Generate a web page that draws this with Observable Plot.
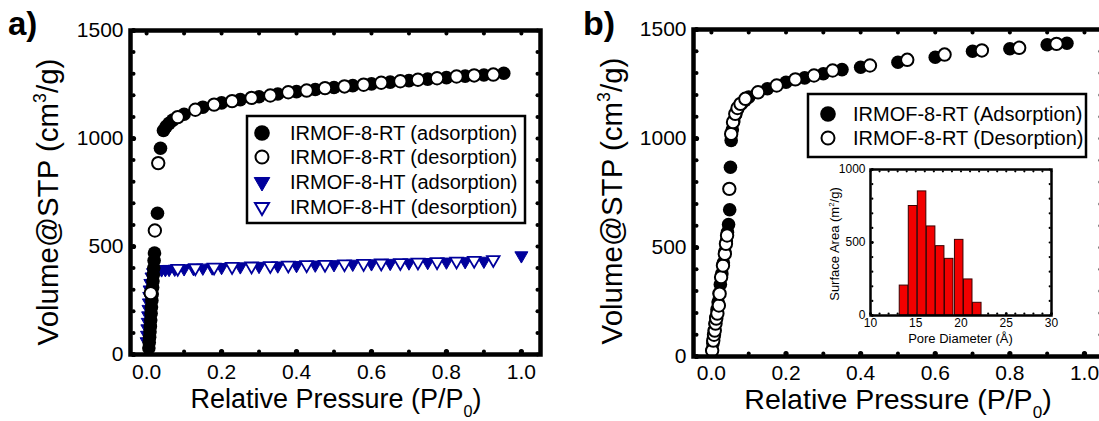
<!DOCTYPE html>
<html><head><meta charset="utf-8">
<script src="https://cdn.jsdelivr.net/npm/d3@7"></script>
<script src="https://cdn.jsdelivr.net/npm/@observablehq/plot@0.6"></script>
<style>
html,body{margin:0;padding:0;background:#fff;overflow:hidden;}
#wrap{position:relative;width:1099px;height:421px;overflow:hidden;background:#fff;}
#wrap svg{position:absolute;overflow:visible;}
</style></head><body><div id="wrap"></div>
<script>
// ---------- data: panel a ----------
const rtAdsA_x = [0.006,0.007,0.008,0.009,0.010,0.011,0.012,0.013,0.014,0.015,0.016,0.017,0.018,0.019,0.020,0.021,0.029,0.037,0.045,0.052,0.060,0.070,0.10,0.15,0.20,0.25,0.30,0.35,0.40,0.45,0.50,0.55,0.60,0.65,0.70,0.75,0.80,0.85,0.90,0.953];
const rtAdsA_y = [30,55,80,105,130,160,190,220,250,280,310,340,370,400,435,470,654,955,1037,1055,1070,1085,1112,1145,1165,1180,1193,1206,1217,1227,1236,1245,1253,1261,1268,1275,1282,1289,1294,1302];
const rtDesA_x = [0.011,0.022,0.031,0.083,0.13,0.18,0.228,0.28,0.33,0.378,0.427,0.476,0.528,0.579,0.626,0.677,0.724,0.775,0.827,0.874,0.925];
const rtDesA_y = [284,574,886,1099,1133,1157,1173,1188,1199,1214,1222,1233,1241,1249,1258,1265,1272,1279,1287,1292,1296];
const htAdsA_x = [0.000,0.001,0.002,0.003,0.004,0.005,0.006,0.007,0.008,0.010,0.013,0.017,0.022,0.03,0.04,0.05,0.06,0.075,0.10,0.125,0.15,0.175,0.20,0.25,0.30,0.35,0.40,0.45,0.50,0.55,0.60,0.65,0.70,0.75,0.80,0.85,0.90,1.00];
const htAdsA_y = [60,90,120,150,180,210,240,270,300,330,360,380,390,392,393,394,395,396,398,399,401,402,404,407,409,411,413,415,417,419,421,423,425,427,429,431,433,458];
const htDesA_x = [0.083,0.13,0.18,0.228,0.28,0.33,0.378,0.427,0.476,0.528,0.579,0.626,0.677,0.724,0.775,0.827,0.874,0.925];
const htDesA_y = [398,401,404,407,409,411,413,415,417,419,421,423,425,427,429,432,435,439];

// ---------- data: panel b ----------
const rtAdsB_x = [0.002,0.004,0.006,0.008,0.010,0.012,0.015,0.018,0.021,0.024,0.028,0.032,0.036,0.040,0.043,0.046,0.049,0.051,0.053,0.056,0.060,0.065,0.070,0.080,0.090,0.10,0.15,0.20,0.25,0.30,0.35,0.40,0.50,0.60,0.70,0.80,0.90,0.953];
const rtAdsB_y = [30,60,90,120,150,180,215,250,290,330,380,430,480,530,570,605,673,868,991,1040,1080,1110,1135,1158,1175,1190,1228,1258,1278,1297,1316,1327,1350,1373,1400,1412,1430,1437];
const rtDesB_x = [0.002,0.005,0.007,0.009,0.011,0.013,0.016,0.020,0.022,0.026,0.031,0.036,0.039,0.042,0.048,0.053,0.058,0.064,0.070,0.078,0.091,0.125,0.175,0.225,0.275,0.325,0.425,0.525,0.625,0.725,0.825,0.925];
const rtDesB_y = [27,73,100,119,151,174,197,234,288,364,417,471,517,555,769,1021,1075,1113,1140,1159,1182,1212,1243,1271,1289,1312,1335,1361,1385,1404,1416,1434];

// ---------- data: inset ----------
const poreDiam = [13.7,14.7,15.7,16.7,17.7,18.7,19.8,20.8,21.8];
const poreArea = [205,750,850,610,475,388,518,247,87];

// ---------- ticks & labels ----------
const xTickLabels = [0,0.2,0.4,0.6,0.8,1.0];
const xMinor = [0,0.1,0.2,0.3,0.4,0.5,0.6,0.7,0.8,0.9,1.0];
const yTickLabels = [0,500,1000,1500];
const yMinor = [0,100,200,300,400,500,600,700,800,900,1000,1100,1200,1300,1400,1500];
const inXLabels = [10,15,20,25,30];
const inXMinor = [10,11,12,13,14,15,16,17,18,19,20,21,22,23,24,25,26,27,28,29,30];
const inYLabels = [0,500,1000];
const inYMinor = [0,100,200,300,400,500,600,700,800,900,1000];

const legendA = ["IRMOF-8-RT (adsorption)","IRMOF-8-RT (desorption)","IRMOF-8-HT (adsorption)","IRMOF-8-HT (desorption)"];
const legendB = ["IRMOF-8-RT (Adsorption)","IRMOF-8-RT (Desorption)"];

const FONT = "'Liberation Sans', Arial, Helvetica, sans-serif";
const BLUE = "#00009c";
const pts = (xs, ys) => xs.map((x, i) => ({x, y: ys[i]}));

const triDown = {draw(ctx, size) {
  const r = Math.sqrt(size / Math.PI), a = 2 * r, h = a * Math.sqrt(3) / 2;
  ctx.moveTo(-a / 2, -h / 3); ctx.lineTo(a / 2, -h / 3); ctx.lineTo(0, 2 * h / 3); ctx.closePath();
}};

function frameTicks(xd, yd, xMin, yMin, xMaj, yMaj, rMin, rMaj, off) {
  return [
    Plot.dot(xMin, {x: d => d, y: () => yd[0], r: rMin, fill: "black", dy: -off}),
    Plot.dot(xMaj, {x: d => d, y: () => yd[0], r: rMaj, fill: "black", dy: -off}),
    Plot.dot(xMin, {x: d => d, y: () => yd[1], r: rMin, fill: "black", dy: off}),
    Plot.dot(yMin, {x: () => xd[0], y: d => d, r: rMin, fill: "black", dx: off}),
    Plot.dot(yMaj, {x: () => xd[0], y: d => d, r: rMaj, fill: "black", dx: off}),
    Plot.dot(yMin, {x: () => xd[1], y: d => d, r: rMin, fill: "black", dx: -off})
  ];
}

function fixText(svg, size) {
  d3.select(svg).selectAll("text").attr("font-size", null).attr("font-family", null)
    .style("font-size", size + "px").style("font-family", FONT).attr("fill", "black");
}

const wrap = document.getElementById("wrap");

// ---------- panel a ----------
const xdA = [-0.043, 1.051], yd = [0, 1500];
const pa = Plot.plot({
  width: 550, height: 421,
  marginLeft: 130, marginRight: 10, marginTop: 30, marginBottom: 67,
  style: {background: "transparent", fontFamily: FONT, fontSize: "21px", color: "black", overflow: "visible"},
  x: {domain: xdA, ticks: xTickLabels, tickFormat: d3.format(".1f"), tickSize: 0, tickPadding: 10, label: null},
  y: {domain: yd, ticks: yTickLabels, tickFormat: d3.format("d"), tickSize: 0, tickPadding: 7, label: null},
  marks: [
    ...frameTicks(xdA, yd, xMinor, yMinor, xTickLabels, yTickLabels, 2, 2.6, 3),
    Plot.dot(pts(htAdsA_x, htAdsA_y), {x: "x", y: "y", symbol: triDown, r: 6.5, fill: BLUE, stroke: BLUE, strokeWidth: 1}),
    Plot.dot(pts(htDesA_x, htDesA_y), {x: "x", y: "y", symbol: triDown, r: 6.3, fill: "white", stroke: BLUE, strokeWidth: 1.8}),
    Plot.dot(pts(rtAdsA_x, rtAdsA_y), {x: "x", y: "y", r: 6.8, fill: "black"}),
    Plot.dot(pts(rtDesA_x, rtDesA_y), {x: "x", y: "y", r: 6.2, fill: "white", stroke: "black", strokeWidth: 2}),
    Plot.frame({stroke: "black", strokeWidth: 4.5})
  ]
});
pa.style.left = "0px"; pa.style.top = "0px";
fixText(pa, 21);
wrap.appendChild(pa);

// ---------- panel b ----------
const xdB = [-0.048, 1.051];
const pb = Plot.plot({
  width: 560, height: 421,
  marginLeft: 143, marginRight: 7, marginTop: 29, marginBottom: 65,
  style: {background: "transparent", fontFamily: FONT, fontSize: "21px", color: "black", overflow: "visible"},
  x: {domain: xdB, ticks: xTickLabels, tickFormat: d3.format(".1f"), tickSize: 0, tickPadding: 9, label: null},
  y: {domain: yd, ticks: yTickLabels, tickFormat: d3.format("d"), tickSize: 0, tickPadding: 7, label: null},
  marks: [
    ...frameTicks(xdB, yd, xMinor, yMinor, xTickLabels, yTickLabels, 2, 2.6, 3),
    Plot.dot(pts(rtAdsB_x, rtAdsB_y), {x: "x", y: "y", r: 6.8, fill: "black"}),
    Plot.dot(pts(rtDesB_x, rtDesB_y), {x: "x", y: "y", r: 6.2, fill: "white", stroke: "black", strokeWidth: 2}),
    Plot.frame({stroke: "black", strokeWidth: 4.5})
  ]
});
pb.style.left = "550px"; pb.style.top = "0px";
fixText(pb, 21);
wrap.appendChild(pb);

// ---------- inset ----------
const xdI = [10, 30], ydI = [0, 1000];
const pi = Plot.plot({
  width: 270, height: 210,
  marginLeft: 70, marginRight: 19, marginTop: 19, marginBottom: 45,
  style: {background: "transparent", fontFamily: FONT, fontSize: "12px", color: "black", overflow: "visible"},
  x: {domain: xdI, ticks: inXLabels, tickFormat: d3.format("d"), tickSize: 0, tickPadding: 3, label: null},
  y: {domain: ydI, ticks: inYLabels, tickFormat: d3.format("d"), tickSize: 0, tickPadding: 5, label: null},
  marks: [
    ...frameTicks(xdI, ydI, inXMinor, inYMinor, inXLabels, inYLabels, 1.1, 1.4, 1.8),
    Plot.rect(pts(poreDiam, poreArea), {x1: d => d.x - 0.47, x2: d => d.x + 0.47, y1: () => 0, y2: "y", fill: "#f20000", stroke: "#3a0000", strokeWidth: 1}),
    Plot.frame({stroke: "black", strokeWidth: 2.5})
  ]
});
pi.style.left = "800px"; pi.style.top = "150px";
fixText(pi, 12);
wrap.appendChild(pi);

// ---------- overlay: titles, panel labels, legends ----------
const ov = d3.select(wrap).append("svg").attr("width", 1099).attr("height", 421)
  .style("left", "0px").style("top", "0px").style("font-family", FONT);

function xTitle(cx, y, size) {
  const t = ov.append("text").attr("x", cx).attr("y", y).attr("text-anchor", "middle").attr("font-size", size);
  t.append("tspan").text("Relative Pressure (P/P");
  t.append("tspan").attr("font-size", size * 0.6).attr("dy", size * 0.33).text("0");
  t.append("tspan").attr("dy", -size * 0.33).text(")");
}
function yTitle(x, cy, size) {
  const t = ov.append("text").attr("transform", `translate(${x},${cy}) rotate(-90)`).attr("text-anchor", "middle").attr("font-size", size);
  t.append("tspan").text("Volume@STP (cm");
  t.append("tspan").attr("font-size", size * 0.6).attr("dy", -size * 0.4).text("3");
  t.append("tspan").attr("dy", size * 0.4).text("/g)");
}
xTitle(336, 408, 27);
xTitle(898, 409, 28.5);
yTitle(58, 202, 29.5);
yTitle(622, 201, 29.5);

ov.append("text").attr("x", 8).attr("y", 35).attr("font-size", 33).attr("font-weight", "bold").text("a)");
ov.append("text").attr("x", 583).attr("y", 35).attr("font-size", 34).attr("font-weight", "bold").text("b)");

// inset titles
ov.append("text").attr("x", 960.5).attr("y", 343).attr("text-anchor", "middle").attr("font-size", 13).text("Pore Diameter (Å)");
{
  const t = ov.append("text").attr("transform", "translate(839,244) rotate(-90)").attr("text-anchor", "middle").attr("font-size", 13);
  t.append("tspan").text("Surface Area (m");
  t.append("tspan").attr("font-size", 8).attr("dy", -5).text("2");
  t.append("tspan").attr("dy", 5).text("/g)");
}

// legend a
ov.append("rect").attr("x", 247).attr("y", 116).attr("width", 278).attr("height", 107)
  .attr("fill", "white").attr("stroke", "black").attr("stroke-width", 2.5);
const rowsA = [133, 157, 182, 207];
const triPath = d3.symbol().type(triDown).size(Math.PI * 7.8 * 7.8)();
legendA.forEach((s, i) => {
  const y = rowsA[i];
  if (i === 0) ov.append("circle").attr("cx", 262).attr("cy", y).attr("r", 7.8).attr("fill", "black");
  if (i === 1) ov.append("circle").attr("cx", 262).attr("cy", y).attr("r", 6.5).attr("fill", "white").attr("stroke", "black").attr("stroke-width", 2);
  if (i === 2) ov.append("path").attr("d", triPath).attr("transform", `translate(262,${y})`).attr("fill", BLUE).attr("stroke", BLUE);
  if (i === 3) ov.append("path").attr("d", d3.symbol().type(triDown).size(Math.PI * 7 * 7)()).attr("transform", `translate(262,${y})`).attr("fill", "white").attr("stroke", BLUE).attr("stroke-width", 2);
  ov.append("text").attr("x", 290).attr("y", y + 7).attr("font-size", 20).text(s);
});

// legend b
ov.append("rect").attr("x", 808).attr("y", 94).attr("width", 278).attr("height", 63)
  .attr("fill", "white").attr("stroke", "black").attr("stroke-width", 2.5);
const rowsB = [114, 138];
legendB.forEach((s, i) => {
  const y = rowsB[i];
  if (i === 0) ov.append("circle").attr("cx", 828).attr("cy", y).attr("r", 7.8).attr("fill", "black");
  else ov.append("circle").attr("cx", 828).attr("cy", y).attr("r", 6.5).attr("fill", "white").attr("stroke", "black").attr("stroke-width", 2);
  ov.append("text").attr("x", 853).attr("y", y + 7).attr("font-size", 20).text(s);
});
</script>
</body></html>
